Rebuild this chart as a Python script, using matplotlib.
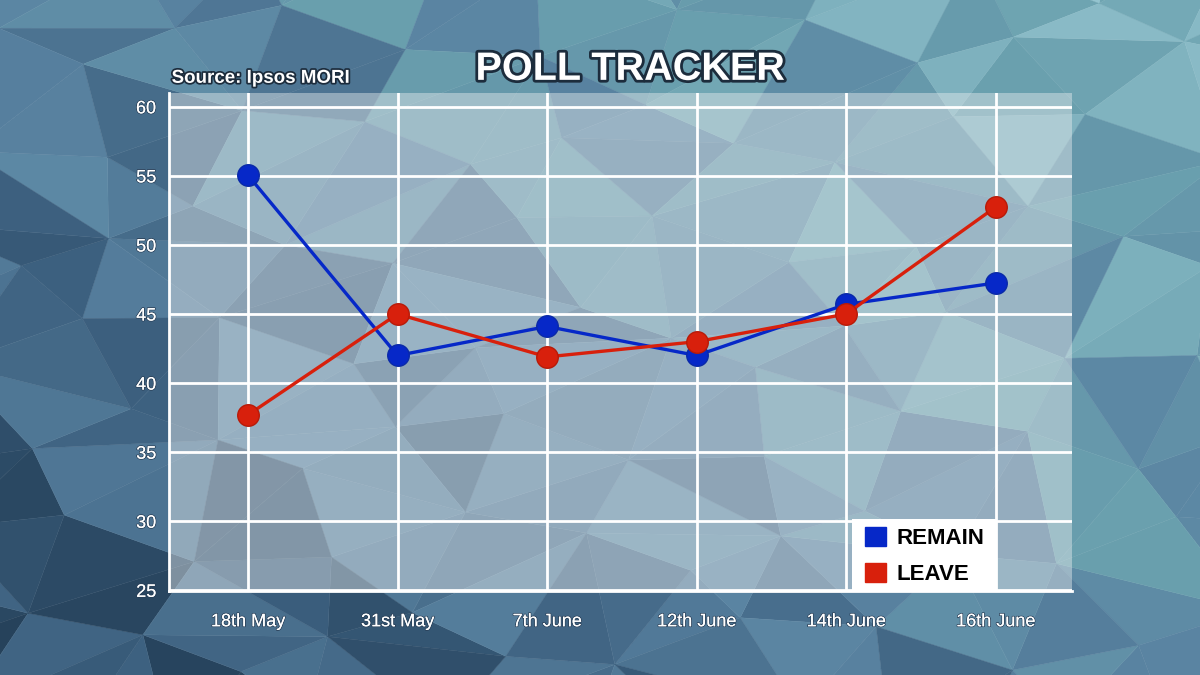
import numpy as np
import matplotlib
matplotlib.use("Agg")
import matplotlib.pyplot as plt
import matplotlib.patheffects as pe
import matplotlib.tri as mtri
from matplotlib.colors import LinearSegmentedColormap

# data
dates = ["18th May", "31st May", "7th June", "12th June", "14th June", "16th June"]
remain = [55.05, 42.0, 44.1, 42.0, 45.7, 47.25]
leave = [37.7, 45.0, 41.9, 43.0, 45.0, 52.75]
yticks = [25, 30, 35, 40, 45, 50, 55, 60]

blue = "#0628c8"
red = "#d8200c"

fig = plt.figure(figsize=(12, 6.75), dpi=100)

# low-poly style background, deterministic mesh
bg = fig.add_axes([0, 0, 1, 1])
bg.set_xlim(0, 1)
bg.set_ylim(0, 1)
bg.axis("off")
gx, gy = np.meshgrid(np.linspace(-0.1, 1.1, 14), np.linspace(-0.1, 1.1, 9))
px = (gx + 0.035 * np.sin(gy * 23.0 + gx * 7.0)).ravel()
py = (gy + 0.045 * np.cos(gx * 19.0 - gy * 5.0)).ravel()
tri = mtri.Triangulation(px, py)
cx = px[tri.triangles].mean(axis=1)
cy = py[tri.triangles].mean(axis=1)
shade = 0.45 * cx + 0.35 * cy + 0.15 * np.sin(cx * 31.0 + cy * 17.0)
cmap = LinearSegmentedColormap.from_list(
    "bgc", ["#223d55", "#3a5d7c", "#5a84a2", "#6aa0ae", "#94c4cf"])
bg.tripcolor(tri, facecolors=shade, cmap=cmap, edgecolors="face", linewidth=0.3)

ax = fig.add_axes([0.1406, 0.1244, 0.7527, 0.7378])
ax.set_facecolor((0.90, 0.92, 0.93, 0.45))
x = np.arange(len(dates))
ax.set_xlim(-0.53, len(dates) - 0.49)
ax.set_ylim(24.95, 61.0)
ax.set_xticks(x)
ax.set_xticklabels(dates)
ax.set_yticks(yticks)
ax.grid(True, color="white", linewidth=2)
ax.set_axisbelow(True)
for s in ["top", "right"]:
    ax.spines[s].set_visible(False)
for s in ["left", "bottom"]:
    ax.spines[s].set_color("white")
    ax.spines[s].set_linewidth(2)
ax.tick_params(length=0, colors="white", labelsize=13)
ax.tick_params(axis="x", pad=16)
ax.tick_params(axis="y", pad=9)
for lab in ax.get_xticklabels() + ax.get_yticklabels():
    lab.set_fontfamily("Liberation Sans")
    lab.set_color("white")
    lab.set_path_effects([pe.withStroke(linewidth=1.2, foreground="#2a4058"),
                          pe.Normal()])

ax.plot(x, remain, color=blue, linewidth=2.4, marker="o", markersize=15.5,
        markeredgecolor="#0a2aa8", markeredgewidth=1, zorder=3)
ax.plot(x, leave, color=red, linewidth=2.4, marker="o", markersize=15.5,
        markeredgecolor="#b81a08", markeredgewidth=1, zorder=3)

# legend: white box in the lower right corner, entries on top of it
ax.add_patch(plt.Rectangle((0.7565, 0.0), 0.1595, 0.1446, transform=ax.transAxes,
                           facecolor="white", edgecolor="none", zorder=4))
leg = ax.legend(
    [plt.Rectangle((0, 0), 1, 1, color=blue), plt.Rectangle((0, 0), 1, 1, color=red)],
    ["REMAIN", "LEAVE"], loc="upper left", bbox_to_anchor=(0.7709, 0.1285),
    frameon=False, handlelength=0.95, handleheight=0.95, handletextpad=0.45,
    labelspacing=0.63, borderpad=0, borderaxespad=0,
    prop={"family": "Liberation Sans", "weight": "bold", "size": 16})
leg.set_zorder(5)

stroke = [pe.withStroke(linewidth=4, foreground="#1c2c3c")]
fig.text(0.525, 0.898, "POLL TRACKER", ha="center", va="center", color="white",
         fontsize=28.5, fontweight="bold", fontfamily="Liberation Sans",
         path_effects=stroke)
fig.text(0.143, 0.884, "Source: Ipsos MORI", ha="left", va="center", color="white",
         fontsize=13.5, fontweight="bold", fontfamily="Liberation Sans",
         path_effects=[pe.withStroke(linewidth=2.5, foreground="#1c2c3c")])

fig.savefig("out.png", dpi=100)
